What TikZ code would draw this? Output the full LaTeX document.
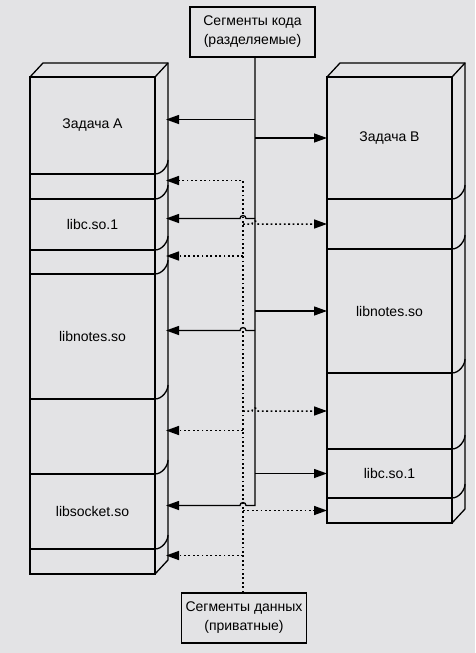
\documentclass[tikz,border=0pt]{standalone}
\usepackage{fontspec}
\setmainfont{Liberation Sans}
\usetikzlibrary{positioning,arrows.meta}
\definecolor{fon}{HTML}{E3E3E5}

\begin{document}
\begin{tikzpicture}[x=1pt, y=-1pt, line width=1.3pt, font=\fontsize{14}{19}\selectfont,
      >={Triangle[length=13pt,width=9pt]},
      seg/.style={draw, rectangle, inner sep=0pt, outer sep=0pt, anchor=north west,
                  minimum width=125pt},
      box/.style={draw, rectangle, inner sep=0pt, minimum width=125pt, minimum height=50pt,
                  align=center},
      dat/.style={line width=1.5pt, dash pattern=on 1.8pt off 2.6pt}]
    \fill[fon] (0,0) rectangle (475,653);
    \useasboundingbox (0,0) rectangle (475,653);

    \node[box] (kodbox) at (252.5,32) {Сегменты кода\\(разделяемые)};
    \node[box] (danbox) at (244,618) {Сегменты данных\\(приватные)};

    % Задача А
    \node[seg, minimum height=97pt] (a1) at (30,77) {Задача А};
    \node[seg, minimum height=25pt, below=0pt of a1] (a2) {};
    \node[seg, minimum height=51pt, below=0pt of a2] (a3) {libc.so.1};
    \node[seg, minimum height=24pt, below=0pt of a3] (a4) {};
    \node[seg, minimum height=125pt, below=0pt of a4] (a5) {libnotes.so};
    \node[seg, minimum height=75pt, below=0pt of a5] (a6) {};
    \node[seg, minimum height=75pt, below=0pt of a6] (a7) {libsocket.so};
    \node[seg, minimum height=25pt, below=0pt of a7] (a8) {};
    \draw (a1.north west) -- ++(13,-14) -- ++(125,0) coordinate (ak) -- ([shift={(13,-14)}]a8.south east) -- (a8.south east);
    \draw (a1.north east) -- (ak);
    \foreach \s in {a1,a2,a3,a4,a5,a6,a7}
      \draw (\s.south east) .. controls +(7,0) and +(0,6) .. +(13,-14);

    % Задача В
    \node[seg, minimum height=122pt] (b1) at (327,77) {Задача В};
    \node[seg, minimum height=50pt, below=0pt of b1] (b2) {};
    \node[seg, minimum height=124pt, below=0pt of b2] (b3) {libnotes.so};
    \node[seg, minimum height=76pt, below=0pt of b3] (b4) {};
    \node[seg, minimum height=49pt, below=0pt of b4] (b5) {libc.so.1};
    \node[seg, minimum height=25pt, below=0pt of b5] (b6) {};
    \draw (b1.north west) -- ++(13,-14) -- ++(125,0) coordinate (bk) -- ([shift={(13,-14)}]b6.south east) -- (b6.south east);
    \draw (b1.north east) -- (bk);
    \foreach \s in {b1,b2,b3,b4,b5}
      \draw (\s.south east) .. controls +(7,0) and +(0,6) .. +(13,-14);

    % targets on the side of A
    \coordinate (t1) at ([shift={(11,-6)}]a1.east);
    \coordinate (t2) at ([shift={(11,-6)}]a2.east);
    \coordinate (t3) at ([shift={(11,-6)}]a3.east);
    \coordinate (t4) at ([shift={(11,-6)}]a4.east);
    \coordinate (t5) at ([shift={(11,-6)}]a5.east);
    \coordinate (t6) at ([shift={(11,-6)}]a6.east);
    \coordinate (t7) at ([shift={(11,-6)}]a7.east);
    \coordinate (t8) at ([shift={(11,-6)}]a8.east);
    \coordinate (kod) at (255,0 |- t7);
    \coordinate (dan) at (243,0 |- t2);

    % code (solid)
    \draw[->] (kodbox.south -| kod) -- (kod) -- ++(-9,0) arc[start angle=0, end angle=-180, radius=3] -- (t7);
    \draw[->] (kod |- t1) -- (t1);
    \draw[->] (kod |- t3) -- ++(-9,0) arc[start angle=0, end angle=-180, radius=3] -- (t3);
    \draw[->] (kod |- t5) -- ++(-9,0) arc[start angle=0, end angle=-180, radius=3] -- (t5);
    \draw[->] (kod |- b1.west) -- (b1.west);
    \draw[->] (kod |- b3.west) -- (b3.west);
    \draw[->] (kod |- b5.west) -- (b5.west);

    % data (dotted)
    \draw[->, dat] (danbox.north -| dan) -- (dan) -- (t2);
    \draw[->, dat] (dan |- t4) -- (t4);
    \draw[->, dat] (dan |- t6) -- (t6);
    \draw[->, dat] (dan |- t8) -- (t8);
    \draw[->, dat] (dan |- b2.west) -- ++(9,0) arc[start angle=180, end angle=360, radius=3] -- (b2.west);
    \draw[->, dat] (dan |- b4.west) -- ++(9,0) arc[start angle=180, end angle=360, radius=3] -- (b4.west);
    \draw[->, dat] (dan |- b6.west) -- (b6.west);
  \end{tikzpicture}
\end{document}
